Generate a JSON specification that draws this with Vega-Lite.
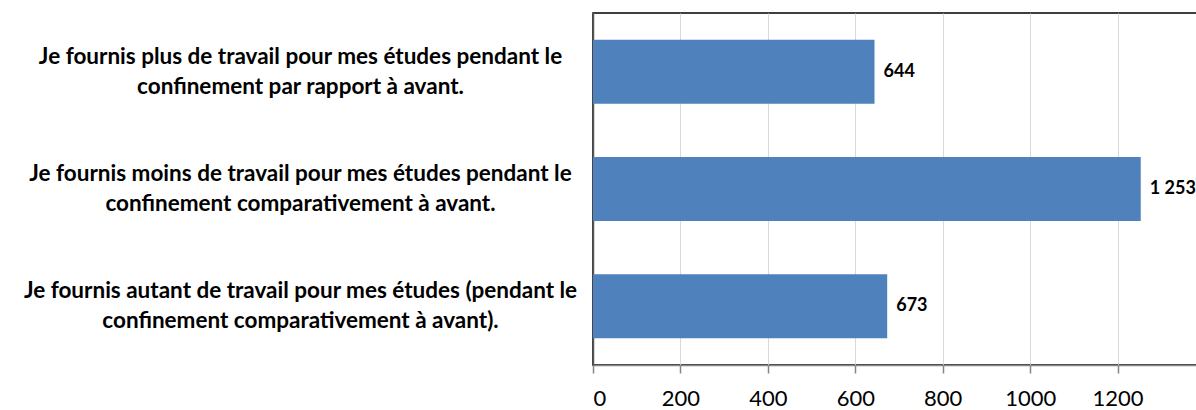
{
  "$schema": "https://vega.github.io/schema/vega-lite/v6.json",
  "width": 612,
  "height": 352,
  "autosize": {"type": "none"},
  "padding": {"left": 593, "top": 13, "right": 0, "bottom": 45},
  "background": "white",
  "data": {
    "values": [
      {"statement": "Je fournis plus de travail pour mes études pendant le|confinement par rapport à avant.", "count": 644},
      {"statement": "Je fournis moins de travail pour mes études pendant le|confinement comparativement à avant.", "count": 1253},
      {"statement": "Je fournis autant de travail pour mes études (pendant le|confinement comparativement à avant).", "count": 673}
    ]
  },
  "encoding": {
    "y": {
      "field": "statement",
      "type": "nominal",
      "sort": null,
      "scale": {"paddingInner": 0.455, "paddingOuter": 0.2275},
      "axis": {
        "title": null,
        "ticks": false,
        "tickSize": 0,
        "labelAlign": "center",
        "labelBaseline": "middle",
        "labelPadding": 293,
        "labelOffset": -15,
        "labelLimit": 700,
        "labelFont": "Lato",
        "labelFontSize": 22.5,
        "labelFontWeight": "bold",
        "labelColor": "#000000",
        "labelLineHeight": 30,
        "labelExpr": "split(datum.label, '|')",
        "domainColor": "#595959",
        "domainWidth": 1.5,
        "grid": false
      }
    },
    "x": {
      "field": "count",
      "type": "quantitative",
      "scale": {"domain": [0, 1400], "nice": false},
      "axis": {
        "title": null,
        "values": [0, 200, 400, 600, 800, 1000, 1200],
        "format": "d",
        "labelFont": "Lato",
        "labelFontSize": 22,
        "labelColor": "#000000",
        "labelPadding": 15,
        "tickSize": 8,
        "tickColor": "#868686",
        "tickWidth": 1.5,
        "domainColor": "#868686",
        "domainWidth": 1.5,
        "grid": true,
        "gridColor": "#D9D9D9",
        "gridWidth": 1
      }
    }
  },
  "layer": [
    {"mark": {"type": "bar", "color": "#4F81BD"}},
    {
      "mark": {"type": "text", "align": "left", "baseline": "middle", "dx": 9, "font": "Lato", "fontSize": 18, "fontWeight": "bold", "color": "#000000"},
      "encoding": {"text": {"field": "count", "type": "quantitative", "format": ","}}
    }
  ],
  "config": {
    "view": {"stroke": "#000000", "strokeWidth": 1.5},
    "locale": {"number": {"decimal": ",", "thousands": " ", "grouping": [3], "currency": ["", " €"]}}
  }
}
